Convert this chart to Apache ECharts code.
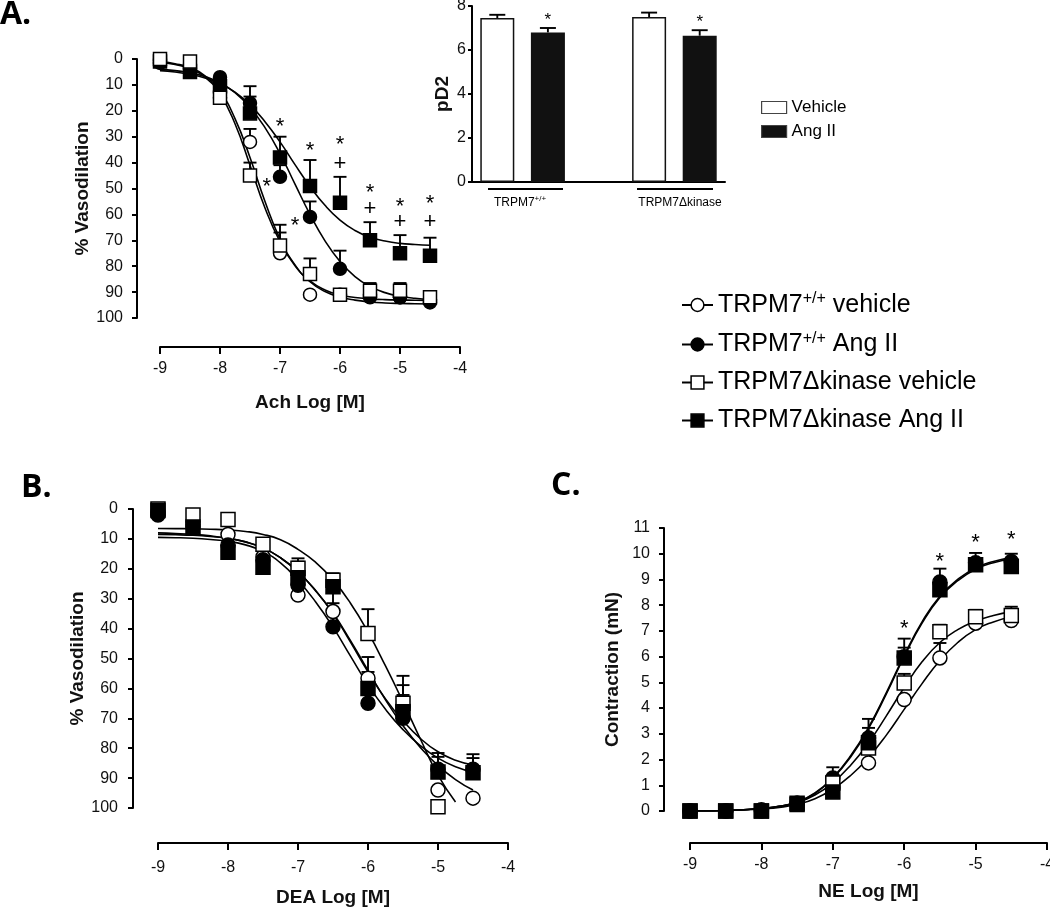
<!DOCTYPE html>
<html>
<head>
<meta charset="utf-8">
<script src="https://cdn.jsdelivr.net/npm/echarts@6/dist/echarts.min.js"></script>
<style>
  html, body { margin: 0; background: #fff; }
  #chart { width: 1050px; height: 909px; }
</style>
</head>
<body>
<div id="chart"></div>
<script>
// doses (log M) and the x positions of the fitted curves
var doses = [-9, -8.5, -8, -7.5, -7, -6.5, -6, -5.5, -5, -4.5];
var curveX = [-9, -8.75, -8.5, -8.25, -8, -7.75, -7.5, -7.25, -7, -6.75, -6.5, -6.25, -6, -5.75, -5.5, -5.25, -5, -4.75, -4.5];

var groupNames = ["TRPM7+/+ vehicle", "TRPM7+/+ Ang II", "TRPM7Δkinase vehicle", "TRPM7Δkinase Ang II"];

// A. Ach relaxation (% vasodilation)
var aVehWt = [0.5, 2, 15, 32, 75, 91, 91, 91, 92, 93];
var aAngWt = [1.5, 4, 7, 17, 45.5, 61, 81, 92, 92, 94];
var aVehKd = [0, 1, 15, 45, 72, 83, 91, 89.5, 89.5, 92];
var aAngKd = [1, 5, 10.5, 21, 38, 49, 55.5, 70, 75, 76];
var aVehWtErr = [null, null, null, 27, 67, null, null, 87, 88, 91];
var aAngWtErr = [null, null, null, 10.5, 41, 55, 74, 89, 89, 92];
var aVehKdErr = [null, null, null, 40, 64, 77, 89, 86.5, 86.5, 90];
var aAngKdErr = [null, null, null, 14.5, 30, 39, 45.5, 63, 68, 69];
var aFitVehWt = [1, 1.8, 3.3, 6.5, 12.5, 23, 38, 55, 69.5, 79.5, 86, 89.8, 91.9, 93.1, 93.8, 94.2, 94.4, 94.5, 94.6];
var aFitAngWt = [4, 4.5, 5.3, 6.8, 9.2, 13, 18.7, 26.5, 36.5, 48.3, 60, 70.2, 78.2, 84, 87.8, 90.2, 91.6, 92.4, 92.8];
var aFitVehKd = [1.2, 2.1, 3.7, 7, 13.5, 25, 41, 57.5, 70.5, 79.8, 85.7, 89.2, 91.1, 92.1, 92.6, 92.9, 93.05, 93.15, 93.2];
var aFitAngKd = [4.5, 5, 5.9, 7.3, 9.5, 12.8, 17.7, 24.2, 32, 40.8, 49.2, 56.5, 62.2, 66.2, 68.8, 70.3, 71.2, 71.6, 71.9];
var aMarks = [[-7, 24, "*"], [-6.5, 33.5, "*"], [-6, 31, "*"], [-6, 40.6, "+"], [-5.5, 49.5, "*"], [-5.5, 58, "+"],
              [-5, 55, "*"], [-5, 63, "+"], [-4.5, 54, "*"], [-4.5, 63, "+"], [-7.22, 47.4, "*"], [-6.75, 62.5, "*"]];

// A inset: pD2
var pd2Cats = ["TRPM7+/+ vehicle", "TRPM7+/+ Ang II", "", "TRPM7Δkinase vehicle", "TRPM7Δkinase Ang II"];
var pd2Vehicle = [7.45, 7.5];
var pd2AngII = [6.8, 6.65];
var pd2VehicleErr = [7.6, 7.7];
var pd2AngIIErr = [7.0, 6.9];

// B. DEA relaxation
var bVehWt = [1, 5, 8.5, 16, 28.8, 34.3, 56.6, 66, 94, 96.7];
var bAngWt = [2, 6, 12, 17, 25.5, 39.4, 65, 70, 87, 87];
var bVehKd = [0, 2, 3.5, 11.8, 19.8, 23.8, 41.6, 65, 99.6, null];
var bAngKd = [0.5, 6, 14.5, 19.5, 23, 26, 60, 67.8, 88, 88.2];
var bVehWtErr = [null, null, null, null, null, 31.5, 49.5, 58.9, null, null];
var bAngWtErr = [null, null, null, null, 17.6, 22.3, 54.5, 62.2, 82.9, 83.3];
var bVehKdErr = [null, null, null, null, 16.5, 21.5, 33.5, null, null, null];
var bAngKdErr = [null, null, null, null, null, null, null, 55.8, 81.6, 82];
var bFitVehWt = [8, 8.2, 8.5, 9, 9.8, 11, 13, 16.3, 21, 27.2, 34.8, 44, 54, 63.8, 72.5, 79.8, 85.8, 90.5, 94];
var bFitAngWt = [9.5, 9.6, 9.8, 10.2, 10.8, 12, 14.2, 18, 23.8, 31, 39.5, 49.2, 58.8, 67, 73.8, 79.2, 83.3, 86.2, 88];
var bFitVehKd = [6.5, 6.55, 6.6, 6.75, 7, 7.5, 8.5, 10.3, 13.5, 17.8, 23.7, 31.5, 41.2, 52.5, 64.5, 77, 89, 98, null];
var bFitAngKd = [8.5, 8.6, 8.8, 9.2, 9.8, 11, 13, 16.3, 21, 27.3, 35, 44.5, 54.5, 63.5, 70.8, 76.8, 81.2, 84, 85.6];

// C. NE contraction (mN)
var cVehWt = [0, 0, 0, 0.3, 0.9, 1.87, 4.33, 5.95, 7.3, 7.4];
var cAngWt = [0, 0, 0.05, 0.3, 1.28, 2.84, 6.0, 8.9, 9.65, 9.7];
var cVehKd = [0, 0, 0, 0.3, 1.09, 2.45, 4.98, 6.97, 7.55, 7.6];
var cAngKd = [0, 0, 0, 0.25, 0.74, 2.65, 5.95, 8.6, 9.57, 9.5];
var cVehWtErr = [null, null, null, null, null, null, null, 6.53, null, null];
var cAngWtErr = [null, null, null, null, 1.7, 3.58, 6.35, 9.42, null, null];
var cVehKdErr = [null, null, null, null, null, 3.23, 5.33, 7.24, 7.82, 7.94];
var cAngKdErr = [null, null, null, null, null, null, 6.7, null, 10.03, 10.0];
var cFitVehWt = [0, 0, 0.02, 0.04, 0.08, 0.14, 0.26, 0.48, 0.85, 1.38, 2.08, 2.95, 3.95, 4.95, 5.85, 6.55, 7.05, 7.35, 7.55];
var cFitAngWt = [0, 0, 0.02, 0.05, 0.1, 0.18, 0.35, 0.7, 1.3, 2.15, 3.25, 4.6, 6.05, 7.35, 8.35, 9.0, 9.45, 9.7, 9.85];
var cFitVehKd = [0, 0, 0.02, 0.05, 0.1, 0.18, 0.33, 0.62, 1.1, 1.78, 2.65, 3.7, 4.8, 5.8, 6.55, 7.05, 7.38, 7.6, 7.75];
var cFitAngKd = [0, 0, 0.02, 0.05, 0.1, 0.18, 0.34, 0.68, 1.27, 2.1, 3.2, 4.55, 6.0, 7.3, 8.3, 8.95, 9.4, 9.65, 9.8];
var cMarks = [[-6, 7.28, "*"], [-5.5, 9.9, "*"], [-5, 10.65, "*"], [-4.5, 10.74, "*"]];

var FONT = "Liberation Sans";
var symbols = ["circle", "circle", "rect", "rect"];
var fills = ["#fff", "#000", "#fff", "#000"];

function errRender(capW) {
  return function (params, api) {
    var p0 = api.coord([api.value(0), api.value(1)]);
    var p1 = api.coord([api.value(0), api.value(2)]);
    var st = { stroke: "#000", lineWidth: 1.9 };
    return {
      type: "group",
      children: [
        { type: "line", shape: { x1: p0[0], y1: p0[1], x2: p1[0], y2: p1[1] }, style: st },
        { type: "line", shape: { x1: p1[0] - capW / 2, y1: p1[1], x2: p1[0] + capW / 2, y2: p1[1] }, style: st }
      ]
    };
  };
}

function textSeries(gi, items, fontSize) {
  return {
    type: "custom",
    xAxisIndex: gi,
    yAxisIndex: gi,
    silent: true,
    z: 10,
    data: items.map(function (d) { return [d[0], d[1]]; }),
    renderItem: function (params, api) {
      var p = api.coord([api.value(0), api.value(1)]);
      var t = items[params.dataIndex][2];
      return {
        type: "text",
        x: p[0],
        y: p[1] + (t === "*" ? fontSize * 0.25 : 0),
        style: { text: t, fontSize: fontSize, fontFamily: FONT, fill: "#000", align: "center", verticalAlign: "middle" }
      };
    }
  };
}

function panelSeries(gi, points, errs, fits, symSize, zOrder) {
  var out = [];
  var errData = [];
  points.forEach(function (arr, k) {
    arr.forEach(function (v, i) {
      if (v != null && errs[k][i] != null) errData.push([doses[i], v, errs[k][i]]);
    });
  });
  out.push({
    type: "custom", xAxisIndex: gi, yAxisIndex: gi, silent: true, z: 2,
    encode: { x: 0, y: [1, 2] }, renderItem: errRender(13), data: errData
  });
  fits.forEach(function (f, k) {
    var d = [];
    curveX.forEach(function (x, i) { if (f[i] != null) d.push([x, f[i]]); });
    out.push({
      type: "line", name: "fit" + gi + "_" + k, xAxisIndex: gi, yAxisIndex: gi, silent: true, z: 3,
      data: d, smooth: 0.5, showSymbol: false, symbol: "none",
      lineStyle: { color: "#000", width: 1.6 }
    });
  });
  points.forEach(function (arr, k) {
    var d = [];
    doses.forEach(function (x, i) { if (arr[i] != null) d.push([x, arr[i]]); });
    out.push({
      type: "line", name: groupNames[k], xAxisIndex: gi, yAxisIndex: gi, silent: true, z: zOrder[k],
      data: d, symbol: symbols[k], symbolSize: symSize, showSymbol: true,
      itemStyle: { color: fills[k], borderColor: "#000", borderWidth: 1.5, opacity: 1 },
      lineStyle: { opacity: 0, width: 0.01 }
    });
  });
  return out;
}

function xAx(gi, name, offset, margin, nameGap) {
  return {
    gridIndex: gi, type: "value", min: -9, max: -4, interval: 1, position: "bottom", offset: offset,
    axisLine: { show: true, onZero: false, lineStyle: { color: "#000", width: 2 } },
    axisTick: { show: true, length: 7, lineStyle: { color: "#000", width: 2 } },
    axisLabel: { margin: margin, fontSize: 16, fontFamily: FONT, color: "#111" },
    splitLine: { show: false },
    name: name, nameLocation: "middle", nameGap: nameGap,
    nameTextStyle: { fontSize: 19, fontWeight: "bold", fontFamily: FONT, color: "#111" }
  };
}

function yAx(gi, name, opt) {
  return {
    gridIndex: gi, type: "value", min: opt.min, max: opt.max, interval: opt.interval, inverse: !!opt.inverse,
    offset: opt.offset,
    axisLine: { show: true, lineStyle: { color: "#000", width: 2 } },
    axisTick: { show: true, length: opt.tick, lineStyle: { color: "#000", width: 2 } },
    axisLabel: { margin: opt.margin, fontSize: 16, fontFamily: FONT, color: "#111" },
    splitLine: { show: false },
    name: name, nameLocation: "middle", nameGap: opt.nameGap,
    nameTextStyle: { fontSize: 19, fontWeight: "bold", fontFamily: FONT, color: "#111" }
  };
}

var series = [];
series = series.concat(panelSeries(0, [aVehWt, aAngWt, aVehKd, aAngKd], [aVehWtErr, aAngWtErr, aVehKdErr, aAngKdErr],
  [aFitVehWt, aFitAngWt, aFitVehKd, aFitAngKd], 13, [4, 5, 7, 6]));
series.push(textSeries(0, aMarks, 22));
series = series.concat(panelSeries(2, [bVehWt, bAngWt, bVehKd, bAngKd], [bVehWtErr, bAngWtErr, bVehKdErr, bAngKdErr],
  [bFitVehWt, bFitAngWt, bFitVehKd, bFitAngKd], 14, [4, 5, 6, 7]));
series = series.concat(panelSeries(3, [cVehWt, cAngWt, cVehKd, cAngKd], [cVehWtErr, cAngWtErr, cVehKdErr, cAngKdErr],
  [cFitVehWt, cFitAngWt, cFitVehKd, cFitAngKd], 14, [4, 5, 6, 7]));
series.push(textSeries(3, cMarks, 22));

// inset bars: vehicle at categories 0 and 3, Ang II at 1 and 4
var vehIdx = [0, 3], angIdx = [1, 4];
var vehBar = pd2Cats.map(function () { return "-"; });
var angBar = pd2Cats.map(function () { return "-"; });
var barErr = [];
vehIdx.forEach(function (c, i) { vehBar[c] = pd2Vehicle[i]; barErr.push([c, pd2Vehicle[i], pd2VehicleErr[i]]); });
angIdx.forEach(function (c, i) { angBar[c] = pd2AngII[i]; barErr.push([c, pd2AngII[i], pd2AngIIErr[i]]); });
series.push({
  type: "custom", xAxisIndex: 1, yAxisIndex: 1, silent: true, z: 1,
  encode: { x: 0, y: [1, 2] }, renderItem: errRender(16), data: barErr
});
series.push({
  type: "bar", name: "Vehicle", xAxisIndex: 1, yAxisIndex: 1, barWidth: 34, barGap: "-100%", silent: true, z: 3,
  data: vehBar, itemStyle: { color: "#fff", borderColor: "#111", borderWidth: 1.5 }
});
series.push({
  type: "bar", name: "Ang II", xAxisIndex: 1, yAxisIndex: 1, barWidth: 34, barGap: "-100%", silent: true, z: 3,
  data: angBar, itemStyle: { color: "#111", borderColor: "#111", borderWidth: 1.5 }
});
series.push(textSeries(1, [[1, pd2AngIIErr[0] + 0.55, "*"], [4, pd2AngIIErr[1] + 0.55, "*"]], 17));

var titleStyle = { fontFamily: "Open Sans", fontWeight: "bold", fontSize: 32, color: "#000" };

var option = {
  animation: false,
  backgroundColor: "#fff",
  title: [
    { text: "A.", left: 0, top: -1, padding: 0, textStyle: titleStyle },
    { text: "B.", left: 21, top: 472, padding: 0, textStyle: titleStyle },
    { text: "C.", left: 551, top: 470, padding: 0, textStyle: titleStyle }
  ],
  grid: [
    { left: 160, top: 59, width: 300, height: 259, containLabel: false, outerBoundsMode: "none" },
    { left: 472, top: 6, width: 253, height: 176, containLabel: false, outerBoundsMode: "none" },
    { left: 158, top: 509, width: 350, height: 299, containLabel: false, outerBoundsMode: "none" },
    { left: 690, top: 528, width: 357, height: 283, containLabel: false, outerBoundsMode: "none" }
  ],
  xAxis: [
    xAx(0, "Ach Log [M]", 29, 14, 46),
    {
      gridIndex: 1, type: "category", data: pd2Cats,
      axisLine: { show: true, lineStyle: { color: "#000", width: 2 } },
      axisTick: { show: false }, axisLabel: { show: false }, splitLine: { show: false }
    },
    xAx(2, "DEA Log [M]", 35, 17, 45),
    xAx(3, "NE Log [M]", 32, 14, 39)
  ],
  yAxis: [
    yAx(0, "% Vasodilation", { min: 0, max: 100, interval: 10, inverse: true, offset: 23, tick: 5, margin: 14, nameGap: 45 }),
    yAx(1, "pD2", { min: 0, max: 8, interval: 2, offset: 0, tick: 4, margin: 6, nameGap: 20 }),
    yAx(2, "% Vasodilation", { min: 0, max: 100, interval: 10, inverse: true, offset: 25, tick: 5, margin: 15, nameGap: 39 }),
    yAx(3, "Contraction (mN)", { min: 0, max: 11, interval: 1, offset: 26, tick: 5, margin: 14, nameGap: 42 })
  ],
  legend: [
    {
      data: groupNames, selectedMode: false, orient: "vertical", left: 676, top: 286,
      itemWidth: 31, itemHeight: 16, itemGap: 13,
      lineStyle: { color: "#000", width: 2, opacity: 1 },
      itemStyle: { borderColor: "#000", borderWidth: 1.5 },
      formatter: function (n) {
        return n.indexOf("+/+") >= 0 ? "{t|" + n.replace("+/+", "}{s|+/+}{t|") + "}" : "{t|" + n + "}";
      },
      textStyle: {
        fontFamily: FONT, fontSize: 25, color: "#000",
        rich: {
          t: { fontFamily: FONT, fontSize: 25, lineHeight: 28, color: "#000" },
          s: { fontFamily: FONT, fontSize: 16, lineHeight: 16, verticalAlign: "top", color: "#000" }
        }
      }
    },
    {
      data: ["Vehicle", "Ang II"], selectedMode: false, orient: "vertical", left: 756, top: 94,
      icon: "rect", itemWidth: 25, itemHeight: 12, itemGap: 7,
      itemStyle: { borderColor: "#444", borderWidth: 1.2 },
      textStyle: { fontFamily: FONT, fontSize: 17, color: "#000" }
    }
  ],
  graphic: [
    { type: "line", shape: { x1: 488, y1: 189, x2: 563, y2: 189 }, style: { stroke: "#000", lineWidth: 2 } },
    { type: "line", shape: { x1: 637, y1: 189, x2: 713, y2: 189 }, style: { stroke: "#000", lineWidth: 2 } },
    {
      type: "text", x: 520, y: 203,
      style: {
        text: "{a|TRPM7}{b|+/+}", align: "center", verticalAlign: "middle",
        rich: { a: { fontSize: 12, fontFamily: FONT, lineHeight: 16 }, b: { fontSize: 8, fontFamily: FONT, lineHeight: 8, verticalAlign: "top" } }
      }
    },
    {
      type: "text", x: 680, y: 203,
      style: { text: "TRPM7Δkinase", fontSize: 12, fontFamily: FONT, fill: "#000", align: "center", verticalAlign: "middle" }
    }
  ],
  series: series
};

var chart = echarts.init(document.getElementById("chart"));
chart.setOption(option);
</script>
</body>
</html>
